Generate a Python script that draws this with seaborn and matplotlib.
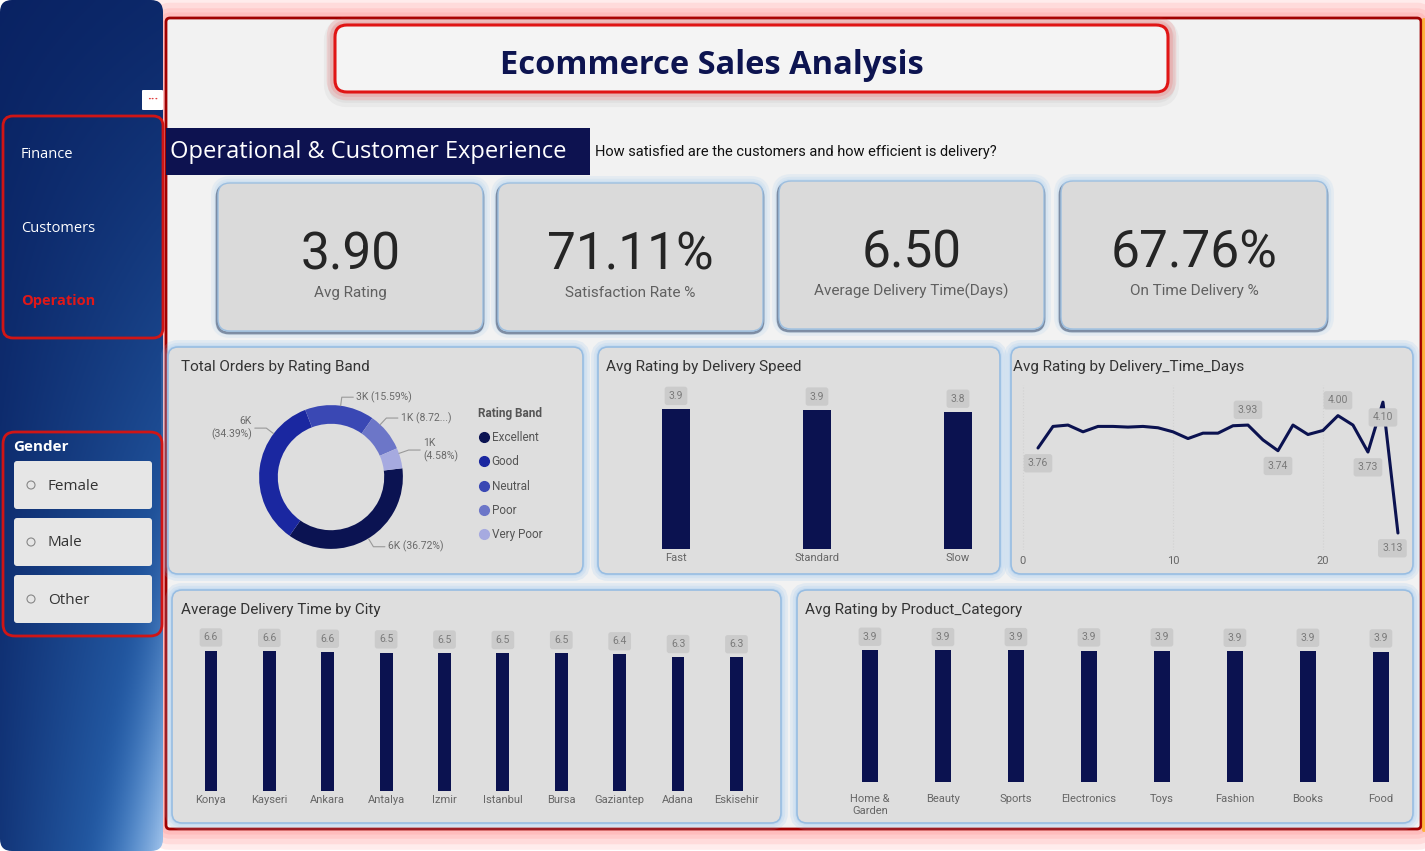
import numpy as np
import pandas as pd
import seaborn as sns
import matplotlib.pyplot as plt
from matplotlib.patches import FancyBboxPatch, Circle
from matplotlib.lines import Line2D

# ---- data ----
rating_bands = ['Excellent', 'Good', 'Neutral', 'Poor', 'Very Poor']
rating_share = [36.72, 34.39, 15.59, 8.72, 4.58]
rating_orders = ['6K', '6K', '3K', '1K', '1K']
band_colors = ['#0b1352', '#1a27a0', '#3a48b4', '#6c76c8', '#a6aae0']

speed_labels = ['Fast', 'Standard', 'Slow']
speed_rating = [3.90, 3.88, 3.82]

delivery_days = list(range(1, 26))
days_rating = [3.76, 3.92, 3.93, 3.88, 3.92, 3.92, 3.915, 3.92, 3.91, 3.88,
               3.83, 3.87, 3.87, 3.925, 3.93, 3.82, 3.74, 3.93, 3.86, 3.89,
               4.00, 3.93, 3.73, 4.10, 3.13]
# days that carry a data label, +1 above / -1 below
days_labelled = {1: -1, 15: 1, 17: -1, 21: 1, 23: -1, 24: -1, 25: -1}

cities = ['Konya', 'Kayseri', 'Ankara', 'Antalya', 'Izmir', 'Istanbul',
          'Bursa', 'Gaziantep', 'Adana', 'Eskisehir']
city_days = [6.62, 6.60, 6.56, 6.53, 6.52, 6.50, 6.50, 6.44, 6.31, 6.30]

categories = ['Home & Garden', 'Beauty', 'Sports', 'Electronics', 'Toys',
              'Fashion', 'Books', 'Food']
category_rating = [3.92, 3.91, 3.91, 3.90, 3.90, 3.89, 3.89, 3.87]

kpi_values = ['3.90', '71.11%', '6.50', '67.76%']
kpi_labels = ['Avg Rating', 'Satisfaction Rate %', 'Average Delivery Time(Days)',
              'On Time Delivery %']

genders = ['Female', 'Male', 'Other']
pages = ['Finance', 'Customers', 'Operation']

NAVY = '#0b1250'
W, H = 1425, 851

sns.set_theme(style='white')
plt.rcParams['font.family'] = ['Roboto', 'DejaVu Sans']
SEGOE = ['Open Sans', 'DejaVu Sans']

fig = plt.figure(figsize=(W / 100, H / 100), dpi=100, facecolor='white')
bg = fig.add_axes([0, 0, 1, 1])
bg.set_xlim(0, W)
bg.set_ylim(H, 0)
bg.axis('off')


def box(x0, y0, x1, y1, r=8, **kw):
    p = FancyBboxPatch((x0, y0), x1 - x0, y1 - y0,
                       boxstyle=f'round,pad=0,rounding_size={r}', **kw)
    bg.add_patch(p)
    return p


def glow(x0, y0, x1, y1, r, color, widths, alpha):
    for lw in widths:
        box(x0, y0, x1, y1, r, fill=False, ec=color, lw=lw, alpha=alpha)


def px_axes(x0, y0, x1, y1):
    ax = fig.add_axes([x0 / W, 1 - y1 / H, (x1 - x0) / W, (y1 - y0) / H])
    ax.patch.set_visible(False)
    return ax


# ---- main frame with red glow (outside only) ----
glow(166, 18, 1421, 829, 4, '#ff3030', [30, 22, 14, 8], 0.09)
box(166, 18, 1421, 829, r=4, fc='#f2f2f2', ec='none')
bg.plot([1424, 1424], [20, 830], color='#ffb020', lw=3, alpha=0.8)
box(166, 18, 1421, 829, r=4, fill=False, ec='#a00000', lw=2)

# ---- sidebar ----
gy, gx = np.mgrid[0:1:300j, 0:1:80j]
c0 = np.array([0.03, 0.12, 0.37])
c1 = np.array([0.17, 0.42, 0.72])
c2 = np.array([0.62, 0.76, 0.92])
t = np.clip(0.05 + 0.25 * gy + 0.75 * gx * gy ** 1.2 + 0.08 * gx, 0, 1)[..., None]
img = c0 * (1 - t) + c1 * t
h = np.clip((gx + gy - 1.5) / 0.5, 0, 1)[..., None] ** 2
img = img * (1 - h) + c2 * h
side = box(0, 0, 163, 851, r=12, fc='none', ec='none')
im = bg.imshow(img, extent=[0, 163, 851, 0], origin='upper', aspect='auto', zorder=1)
im.set_clip_path(side)
bg.set_xlim(0, W)
bg.set_ylim(H, 0)

box(142, 90, 163, 110, r=1, fc='white', ec='none', zorder=3)
bg.text(152.5, 99, '···', color='#e04040', fontsize=9, fontweight='bold',
        ha='center', va='center', zorder=4)

box(3, 116, 163, 338, r=10, fill=False, ec='#d01515', lw=2, zorder=3)
for i, name in enumerate(pages):
    active = name == 'Operation'
    bg.text(21, 155 + 73 * i, name, color='#e01818' if active else 'white',
            fontsize=10.5, fontweight='bold' if active else 'normal',
            family=SEGOE, va='center', zorder=4)

box(3, 432, 162, 636, r=12, fill=False, ec='#d01515', lw=2, zorder=3)
bg.text(13, 447, 'Gender', color='white', fontsize=11, fontweight='bold',
        family=SEGOE, va='center', zorder=4)
for i, g in enumerate(genders):
    y0 = 461 + 57 * i
    box(14, y0, 152, y0 + 48, r=3, fc='#e6e6e6', ec='none', zorder=3)
    bg.add_patch(Circle((31, y0 + 24), 4, fill=False, ec='#888888', lw=0.8, zorder=4))
    bg.text(48, y0 + 25, g, color='#333333', fontsize=11,
            family=SEGOE, va='center', zorder=4)

# ---- header ----
glow(335, 29, 1168, 96, 12, '#777777', [16, 10], 0.07)
glow(335, 25, 1168, 92, 12, '#ff2020', [12, 7], 0.12)
box(335, 25, 1168, 92, r=12, fc='#f4f4f4', ec='#e01515', lw=2.2)
bg.text(712, 61, 'Ecommerce Sales Analysis', color='#0d1450', fontsize=23.5,
        fontweight='bold', family=SEGOE, ha='center', va='center_baseline')

box(166, 128, 590, 175, r=0, fc='#0d1250', ec='none')
bg.text(170, 152, 'Operational & Customer Experience', color='white', fontsize=17,
        family=SEGOE, va='center')
bg.text(595, 152, 'How satisfied are the customers and how efficient is delivery?',
        color='#111111', fontsize=10.5, va='center')

# ---- KPI cards ----
cards = [(218, 183, 483, 331), (498, 183, 763, 331),
         (779, 181, 1044, 329), (1061, 181, 1327, 329)]
for (x0, y0, x1, y1), val, lab in zip(cards, kpi_values, kpi_labels):
    glow(x0, y0, x1, y1, 12, '#8cc0f0', [10, 6, 3], 0.13)
    box(x0 - 1, y0 + 2, x1, y1 + 2, r=12, fill=False, ec='#2a3a5a', lw=2, alpha=0.5)
    box(x0, y0, x1, y1, r=12, fc='#dadada', ec='#9dbfe0', lw=1)
    cx = (x0 + x1) / 2
    bg.text(cx, y0 + 73, val, color='#252525', fontsize=37, ha='center', va='center')
    bg.text(cx, y0 + 110, lab, color='#606060', fontsize=11, ha='center', va='center')

# ---- chart panels ----
panels = [
    ((168, 347, 583, 574), 'Total Orders by Rating Band', 13),
    ((598, 347, 1000, 574), 'Avg Rating by Delivery Speed', 8),
    ((1011, 347, 1413, 574), 'Avg Rating by Delivery_Time_Days', 2),
    ((172, 590, 781, 823), 'Average Delivery Time by City', 9),
    ((797, 590, 1413, 823), 'Avg Rating by Product_Category', 8),
]
for (x0, y0, x1, y1), title, off in panels:
    glow(x0, y0, x1, y1, 10, '#8cc0f0', [10, 6, 3], 0.16)
    box(x0, y0, x1, y1, r=10, fc='#dedede', ec='#98bde2', lw=1.2)
    bg.text(x0 + off, y0 + 20, title, color='#333333', fontsize=11, va='center')


def label_box(ax, text, xy, dy, dx=0):
    ax.annotate(text, xy, xytext=(dx, dy), textcoords='offset points',
                ha='center', va='center', fontsize=7.5, color='#7a7a7a',
                bbox=dict(boxstyle='round,pad=0.4,rounding_size=0.25', fc='#cbcbcb', ec='none'))


def bar_panel(ax, labels, values, width, xlim, ylim, pad):
    df = pd.DataFrame({'cat': labels, 'val': values})
    sns.barplot(data=df, x='cat', y='val', color=NAVY, saturation=1, width=width,
                errorbar=None, linewidth=0, ax=ax)
    ax.set_xlim(xlim)
    ax.set_ylim(ylim)
    for i, v in enumerate(values):
        label_box(ax, f'{v:.1f}', (i, v), 9.5)
    sns.despine(ax=ax, left=True, bottom=True)
    ax.set_yticks([])
    ax.set_xlabel('')
    ax.set_ylabel('')
    ax.tick_params(axis='x', length=0, pad=pad, labelsize=8, labelcolor='#666666')


# delivery speed
ax = px_axes(610, 385, 990, 549)
bar_panel(ax, speed_labels, speed_rating, 0.2, (-0.468, 2.227), (0, 4.57), 3)

# city
ax = px_axes(180, 625, 775, 791)
bar_panel(ax, cities, city_days, 0.22, (-0.53, 9.66), (0, 7.83), 3)

# category
ax = px_axes(805, 625, 1405, 782)
bar_panel(ax, [c.replace(' & ', ' &\n') for c in categories], category_rating,
          0.23, (-0.89, 7.33), (0, 4.66), 9)

# line chart
ax = px_axes(1018, 385, 1408, 550)
sns.lineplot(x=delivery_days, y=days_rating, color=NAVY, lw=2.2, ax=ax)
ax.set_xlim(-0.333, 25.67)
ax.set_ylim(3.004, 4.227)
ax.set_xticks([0, 10, 20])
ax.set_yticks([])
ax.grid(axis='x', ls=':', color='#d2d2d2', lw=0.8)
sns.despine(ax=ax, left=True, bottom=True)
ax.tick_params(axis='x', length=0, pad=4, labelsize=8, labelcolor='#666666')
for d, side_ in days_labelled.items():
    v = days_rating[d - 1]
    label_box(ax, f'{v:.2f}', (d, v), 11 * side_, dx=-4 if d == 25 else 0)

# donut
ax = px_axes(221, 367, 441, 587)
wedges, _ = ax.pie(rating_share, colors=band_colors, startangle=7, counterclock=False,
                   radius=1, wedgeprops=dict(width=0.26, edgecolor='none'))
ax.set_xlim(-1.53, 1.53)
ax.set_ylim(-1.53, 1.53)
donut_text_pos = [(0.79, -0.97), (-1.10, 0.68), (0.35, 1.11), (0.97, 0.82), (1.28, 0.375)]
for share, cnt, (tx, ty) in zip(rating_share, rating_orders, donut_text_pos):
    sgn = -1 if tx < 0 else 1
    pct = f'({share:.2f}%)'
    if share < 10 and ty > 0.6:
        txt = f'{cnt} ({share:.2f}...)'
    elif tx < 0 or share < 6:
        txt = f'{cnt}\n{pct}'
    else:
        txt = f'{cnt} {pct}'
    ax.text(tx, ty, txt, ha='right' if tx < 0 else 'left', va='center',
            fontsize=7.5, color='#6a6a6a', linespacing=1.3)
    p2 = np.array([tx - sgn * 0.04, ty])
    p1 = np.array([tx - sgn * 0.2, ty])
    p0 = p1 / np.hypot(*p1)
    ax.plot([p0[0], p1[0], p2[0]], [p0[1], p1[1], p2[1]], color='#999999', lw=0.8)
handles = [Line2D([], [], marker='o', ls='', color=c, markersize=7) for c in band_colors]
ax.legend(handles, rating_bands, title='Rating Band', loc='upper left',
          bbox_to_anchor=(478 / W, 1 - 407 / H), bbox_transform=fig.transFigure,
          frameon=False, handletextpad=0.15, handlelength=1.0, labelspacing=0.95,
          borderpad=0, borderaxespad=0, alignment='left', fontsize=8.5,
          title_fontproperties={'weight': 'bold', 'size': 8.5}, labelcolor='#555555')
ax.get_legend().get_title().set_color('#555555')

fig.savefig('out.png', dpi=100, facecolor='white')
